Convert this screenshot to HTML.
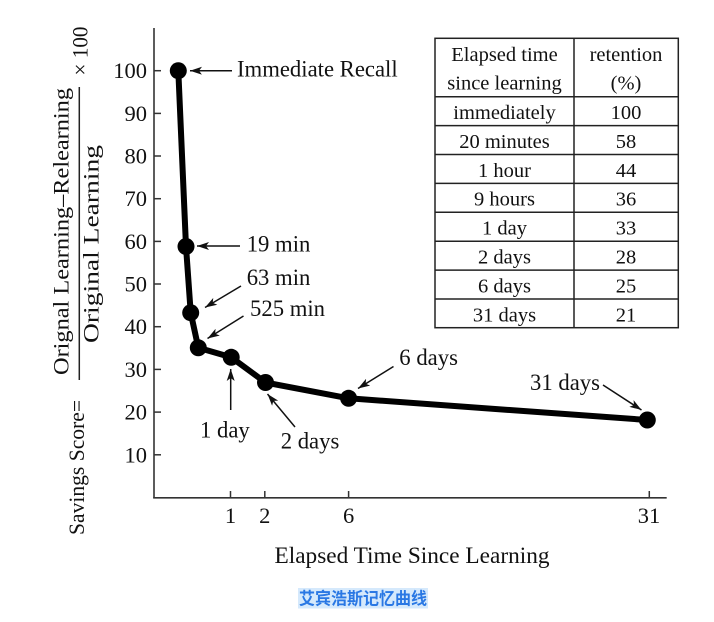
<!DOCTYPE html>
<html>
<head>
<meta charset="utf-8">
<style>
  html, body { margin: 0; padding: 0; background: #ffffff; }
  svg { display: block; }
  .t { font-family: "Liberation Serif", "Times New Roman", serif; fill: #111; }
  .cap { font-family: "Liberation Sans", "Noto Sans CJK SC", sans-serif; font-weight: bold; fill: #2a78e4; font-size: 17px; }
</style>
</head>
<body>
<svg width="714" height="622" viewBox="0 0 714 622" xmlns="http://www.w3.org/2000/svg">
  <defs>
    <marker id="ah" viewBox="0 0 12 8" refX="12" refY="4" markerWidth="12" markerHeight="8" orient="auto" markerUnits="userSpaceOnUse">
      <path d="M0,0 L12,4 L0,8 L3,4 z" fill="#111"/>
    </marker>
  </defs>
  <rect x="0" y="0" width="714" height="622" fill="#ffffff"/>

  <!-- Y axis label -->
  <text class="t" font-size="22.5" text-anchor="middle" transform="translate(84,467.5) rotate(-90)" textLength="135" lengthAdjust="spacingAndGlyphs">Savings Score=</text>
  <text class="t" font-size="22.5" text-anchor="middle" transform="translate(68.5,231.5) rotate(-90)" textLength="287" lengthAdjust="spacingAndGlyphs">Orignal Learning–Relearning</text>
  <line x1="79.3" y1="87" x2="79.3" y2="380" stroke="#222" stroke-width="1.5"/>
  <text class="t" font-size="22.5" text-anchor="middle" transform="translate(98.5,244) rotate(-90)" textLength="198" lengthAdjust="spacingAndGlyphs">Original Learning</text>
  <text class="t" font-size="22.5" text-anchor="middle" transform="translate(87.5,51) rotate(-90)" textLength="49" lengthAdjust="spacingAndGlyphs">× 100</text>

  <!-- Axes -->
  <line x1="154" y1="28" x2="154" y2="498.3" stroke="#333" stroke-width="1.6"/>
  <line x1="153.2" y1="497.8" x2="666.7" y2="497.8" stroke="#333" stroke-width="1.6"/>

  <!-- Y ticks and labels -->
  <g stroke="#333" stroke-width="1.5">
    <line x1="154" y1="70.7" x2="161" y2="70.7"/>
    <line x1="154" y1="113.4" x2="161" y2="113.4"/>
    <line x1="154" y1="156" x2="161" y2="156"/>
    <line x1="154" y1="198.7" x2="161" y2="198.7"/>
    <line x1="154" y1="241.4" x2="161" y2="241.4"/>
    <line x1="154" y1="284" x2="161" y2="284"/>
    <line x1="154" y1="326.7" x2="161" y2="326.7"/>
    <line x1="154" y1="369.4" x2="161" y2="369.4"/>
    <line x1="154" y1="412.1" x2="161" y2="412.1"/>
    <line x1="154" y1="454.8" x2="161" y2="454.8"/>
  </g>
  <g class="t" font-size="22.5" text-anchor="end">
    <text x="147" y="78.2">100</text>
    <text x="147" y="120.9">90</text>
    <text x="147" y="163.5">80</text>
    <text x="147" y="206.2">70</text>
    <text x="147" y="248.9">60</text>
    <text x="147" y="291.5">50</text>
    <text x="147" y="334.2">40</text>
    <text x="147" y="376.9">30</text>
    <text x="147" y="419.6">20</text>
    <text x="147" y="462.3">10</text>
  </g>

  <!-- X ticks and labels -->
  <g stroke="#333" stroke-width="1.5">
    <line x1="230.5" y1="498" x2="230.5" y2="491"/>
    <line x1="264.8" y1="498" x2="264.8" y2="491"/>
    <line x1="348.6" y1="498" x2="348.6" y2="491"/>
    <line x1="649.3" y1="498" x2="649.3" y2="491"/>
  </g>
  <g class="t" font-size="22.5" text-anchor="middle">
    <text x="230.5" y="523">1</text>
    <text x="264.8" y="523">2</text>
    <text x="348.6" y="523">6</text>
    <text x="649" y="523">31</text>
  </g>
  <text class="t" font-size="23.3" text-anchor="middle" x="412" y="563">Elapsed Time Since Learning</text>

  <!-- Curve -->
  <polyline points="178.3,70.7 186,246.5 190.7,312.7 198.3,347.8 231.2,357.3 265.5,382.5 348.6,398.3 647.3,420"
            fill="none" stroke="#000" stroke-width="6" stroke-linejoin="round" stroke-linecap="round"/>
  <g fill="#000">
    <circle cx="178.3" cy="70.7" r="8.5"/>
    <circle cx="186" cy="246.5" r="8.5"/>
    <circle cx="190.7" cy="312.7" r="8.5"/>
    <circle cx="198.3" cy="347.8" r="8.5"/>
    <circle cx="231.2" cy="357.3" r="8.5"/>
    <circle cx="265.5" cy="382.5" r="8.5"/>
    <circle cx="348.6" cy="398.3" r="8.5"/>
    <circle cx="647.3" cy="420" r="8.5"/>
  </g>

  <!-- Annotation arrows -->
  <g stroke="#111" stroke-width="1.5" marker-end="url(#ah)">
    <line x1="232" y1="70.7" x2="190" y2="70.7"/>
    <line x1="240" y1="246" x2="197" y2="246"/>
    <line x1="241" y1="286" x2="205" y2="307.5"/>
    <line x1="243.5" y1="316" x2="207.5" y2="338.5"/>
    <line x1="230.7" y1="410" x2="230.7" y2="369"/>
    <line x1="295" y1="427" x2="267.5" y2="394"/>
    <line x1="393.5" y1="366.5" x2="358" y2="388.5"/>
    <line x1="603" y1="385" x2="641.5" y2="410"/>
  </g>

  <!-- Annotation labels -->
  <g class="t" font-size="22.7">
    <text x="237" y="76.7">Immediate Recall</text>
    <text x="246.7" y="251.7">19 min</text>
    <text x="246.7" y="285">63 min</text>
    <text x="250" y="316">525 min</text>
    <text x="200" y="437.3">1 day</text>
    <text x="280.7" y="448.3">2 days</text>
    <text x="399.3" y="365">6 days</text>
    <text x="530" y="390">31 days</text>
  </g>

  <!-- Table -->
  <g stroke="#222" stroke-width="1.5" fill="none">
    <rect x="435" y="38.3" width="243.3" height="289.4"/>
    <line x1="574" y1="38.3" x2="574" y2="327.7"/>
    <line x1="435" y1="96.7" x2="678.3" y2="96.7"/>
    <line x1="435" y1="125.6" x2="678.3" y2="125.6"/>
    <line x1="435" y1="154.5" x2="678.3" y2="154.5"/>
    <line x1="435" y1="183.4" x2="678.3" y2="183.4"/>
    <line x1="435" y1="212.3" x2="678.3" y2="212.3"/>
    <line x1="435" y1="241.2" x2="678.3" y2="241.2"/>
    <line x1="435" y1="270.1" x2="678.3" y2="270.1"/>
    <line x1="435" y1="299" x2="678.3" y2="299"/>
  </g>
  <g class="t" font-size="20.5" text-anchor="middle">
    <text x="504.5" y="61">Elapsed time</text>
    <text x="504.5" y="89.5">since learning</text>
    <text x="626" y="61">retention</text>
    <text x="626" y="89.5">(%)</text>

    <text x="504.5" y="119">immediately</text>
    <text x="626" y="119">100</text>
    <text x="504.5" y="147.9">20 minutes</text>
    <text x="626" y="147.9">58</text>
    <text x="504.5" y="176.8">1 hour</text>
    <text x="626" y="176.8">44</text>
    <text x="504.5" y="205.7">9 hours</text>
    <text x="626" y="205.7">36</text>
    <text x="504.5" y="234.6">1 day</text>
    <text x="626" y="234.6">33</text>
    <text x="504.5" y="263.5">2 days</text>
    <text x="626" y="263.5">28</text>
    <text x="504.5" y="292.4">6 days</text>
    <text x="626" y="292.4">25</text>
    <text x="504.5" y="321.3">31 days</text>
    <text x="626" y="321.3">21</text>
  </g>

  <!-- Caption -->
  <rect x="298" y="588" width="130" height="20.5" fill="#d5e9fc"/>
  <text class="cap" x="363" y="604.5" text-anchor="middle" textLength="128" lengthAdjust="spacingAndGlyphs">艾宾浩斯记忆曲线</text>
</svg>
</body>
</html>
